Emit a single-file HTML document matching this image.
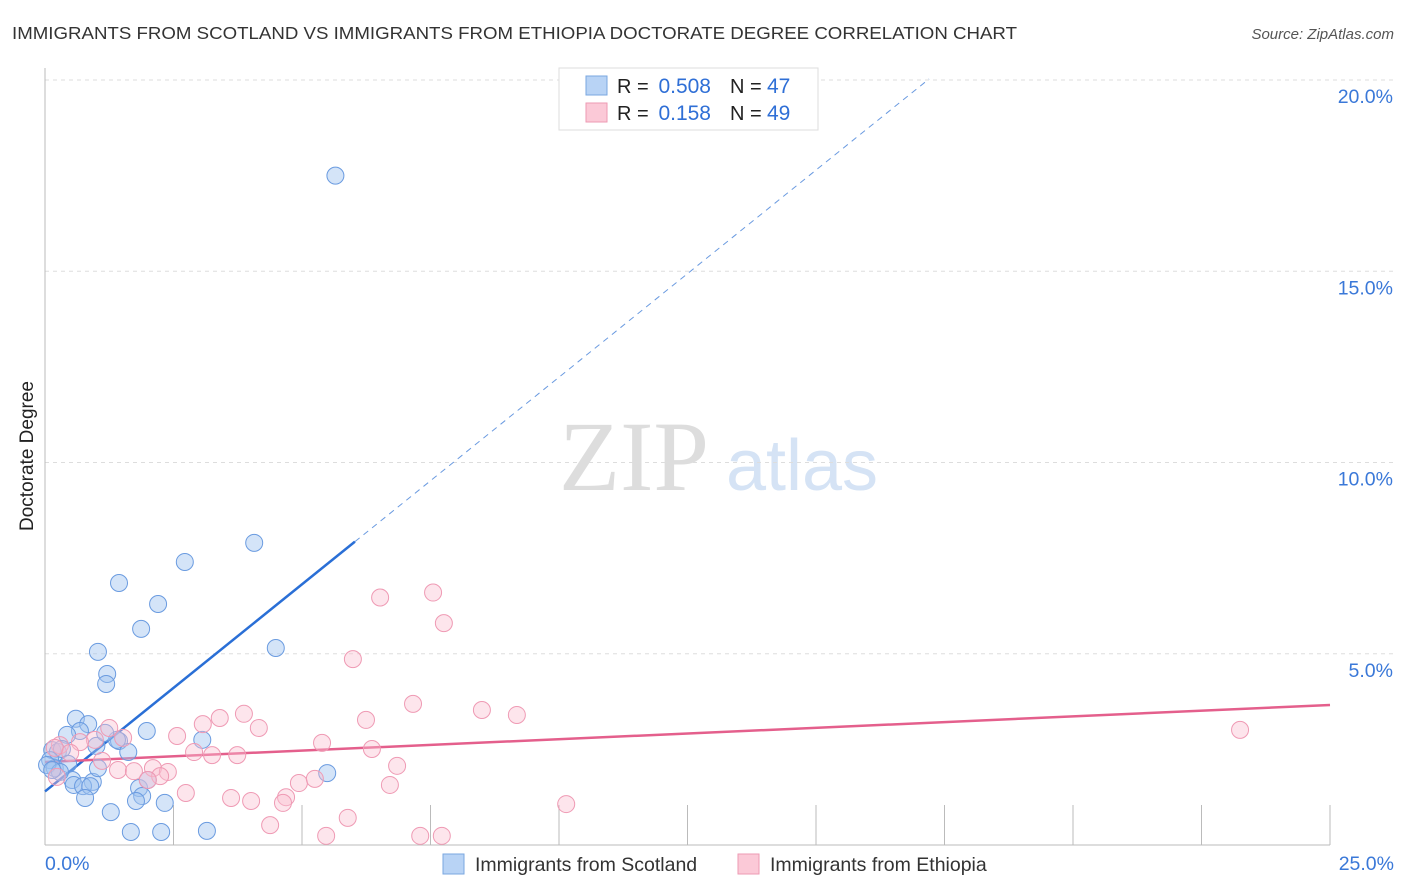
<!DOCTYPE html>
<html><head><meta charset="utf-8"><style>
body{margin:0;background:#fff;font-family:"Liberation Sans",sans-serif;}
svg{display:block}
</style></head><body>
<svg id="chart" width="1406" height="892" xmlns="http://www.w3.org/2000/svg">
<text x="12" y="39" font-size="17.5" fill="#333" textLength="1005" lengthAdjust="spacingAndGlyphs">IMMIGRANTS FROM SCOTLAND VS IMMIGRANTS FROM ETHIOPIA DOCTORATE DEGREE CORRELATION CHART</text>
<text x="1394" y="39" font-size="15" fill="#555" font-style="italic" text-anchor="end">Source: ZipAtlas.com</text>
<text x="33" y="456" font-size="19" fill="#222" text-anchor="middle" transform="rotate(-90 33 456)">Doctorate Degree</text>
<g><text x="634" y="490" font-size="100" fill="#ddd" font-family="Liberation Serif,serif" text-anchor="middle">ZIP</text><text x="802" y="490" font-size="72" fill="#d5e3f5" text-anchor="middle">atlas</text></g>
<g id="grid"></g><g id="axes"></g>
<g id="lines"></g><g id="pts"></g>
<g>
<rect x="559" y="68" width="259" height="62" fill="#fff" stroke="#ddd"/>
<rect x="586" y="76" width="21" height="19" fill="#b8d3f5" stroke="#7aa7e0"/>
<rect x="586" y="103" width="21" height="19" fill="#fbc9d7" stroke="#ee9ab3"/>
<text x="617" y="93" font-size="20" fill="#222">R =</text>
<text x="711" y="93" font-size="21" fill="#2f6fd6" text-anchor="end">0.508</text>
<text x="730" y="93" font-size="20" fill="#222">N =</text>
<text x="767" y="93" font-size="21" fill="#2f6fd6">47</text>
<text x="617" y="120" font-size="20" fill="#222">R =</text>
<text x="711" y="120" font-size="21" fill="#2f6fd6" text-anchor="end">0.158</text>
<text x="730" y="120" font-size="20" fill="#222">N =</text>
<text x="767" y="120" font-size="21" fill="#2f6fd6">49</text>
</g>
<g>
<rect x="443" y="854" width="21" height="20" fill="#b8d3f5" stroke="#7aa7e0"/>
<text x="475" y="871" font-size="19.5" fill="#333">Immigrants from Scotland</text>
<rect x="738" y="854" width="21" height="20" fill="#fbc9d7" stroke="#ee9ab3"/>
<text x="770" y="871" font-size="19.5" fill="#333">Immigrants from Ethiopia</text>
</g>
</svg>
<script>
const yTicks=[5,10,15,20];
const yTickLabels=["5.0%","10.0%","15.0%","20.0%"];
const xTicks=[0,2.5,5,7.5,10,12.5,15,17.5,20,22.5,25];
const scotX=[5.65,4.07,2.72,1.44,2.2,1.87,1.03,4.49,1.21,1.19,0.6,0.84,0.68,0.43,1.98,3.06,1.44,1.0,1.62,1.4,0.14,0.25,0.33,0.1,0.19,0.45,0.04,0.53,0.93,0.56,0.74,0.88,0.78,1.83,1.89,1.77,2.33,2.0,5.49,1.28,1.67,2.26,3.15,0.29,0.14,1.17,1.03];
const scotY=[17.5,7.9,7.4,6.85,6.3,5.65,5.05,5.15,4.47,4.21,3.3,3.16,2.98,2.88,2.98,2.75,2.72,2.59,2.43,2.75,2.48,2.43,2.51,2.22,2.01,2.12,2.09,1.7,1.65,1.57,1.54,1.54,1.23,1.49,1.28,1.15,1.10,1.7,1.88,0.86,0.34,0.34,0.37,1.91,1.96,2.93,2.01];
const ethX=[7.55,6.52,7.76,5.99,7.16,8.5,9.18,23.25,6.245,3.87,3.4,3.07,4.16,2.57,5.39,6.36,2.9,3.25,3.74,1.25,1.52,0.97,0.29,0.19,0.68,1.42,1.73,2.1,2.39,2.24,6.85,4.94,5.25,6.71,2.74,3.62,4.01,4.69,4.63,10.14,5.89,4.38,5.47,7.3,7.72,1.11,2.0,0.23,0.49];
const ethY=[6.6,6.47,5.8,4.86,3.69,3.53,3.4,3.01,3.27,3.43,3.32,3.16,3.06,2.85,2.67,2.51,2.43,2.35,2.35,3.06,2.8,2.75,2.61,2.54,2.69,1.96,1.93,2.01,1.91,1.8,2.07,1.62,1.73,1.57,1.36,1.23,1.15,1.25,1.10,1.07,0.71,0.52,0.24,0.24,0.24,2.2,1.7,1.78,2.41];
const scotFit=[1.4,1.083,6.03,17.2];
const ethFit=[2.17,0.0596];
const X=v=>45+v*51.4, Y=v=>845-v*38.25;
const NS="http://www.w3.org/2000/svg";
function mk(p,t,a){const e=document.createElementNS(NS,t);for(const k in a)e.setAttribute(k,a[k]);document.getElementById(p).appendChild(e);return e;}
yTicks.forEach((t,i)=>{
 const l=mk('grid','line',{x1:45,x2:1394,y1:Y(t),y2:Y(t),stroke:'#ddd','stroke-dasharray':'4,4'});
 
 
 const tx=mk('grid','text',{x:1393,y:Y(t)+23,'font-size':19.5,fill:'#3a78d8','text-anchor':'end'});tx.textContent=yTickLabels[i];
 
 
});
mk('axes','line',{x1:45,x2:45,y1:68,y2:845,stroke:'#bbb'});
mk('axes','line',{x1:45,x2:1330,y1:845,y2:845,stroke:'#bbb'});
xTicks.forEach(t=>{const l=mk('axes','line',{x1:X(t),x2:X(t),y1:805,y2:845,stroke:'#bbb'});
 
 });
let t0=mk('axes','text',{x:45,y:870,'font-size':19.5,fill:'#3a78d8'});t0.textContent='0.0%';


let t1=mk('axes','text',{x:1394,y:870,'font-size':19.5,fill:'#3a78d8','text-anchor':'end'});t1.textContent='25.0%';


scotX.forEach((x,i)=>{const c=mk('pts','circle',{cx:X(x),cy:Y(scotY[i]),r:8.5,fill:'rgba(160,195,240,0.45)',stroke:'#6a9be0','stroke-width':1});
 
 });
ethX.forEach((x,i)=>{const c=mk('pts','circle',{cx:X(x),cy:Y(ethY[i]),r:8.5,fill:'rgba(250,190,208,0.4)',stroke:'#ef9ab4','stroke-width':1});
 
 });
const f=(a,x)=>a[0]+a[1]*x;
let bl=mk('lines','line',{x1:X(0),y1:Y(f(scotFit,0)),x2:X(scotFit[2]),y2:Y(f(scotFit,scotFit[2])),stroke:'#2a6fd6','stroke-width':2.5});


let bd=mk('lines','line',{x1:X(scotFit[2]),y1:Y(f(scotFit,scotFit[2])),x2:X(scotFit[3]),y2:Y(f(scotFit,scotFit[3])),stroke:'#6a9ae0','stroke-width':1,'stroke-dasharray':'6,5'});


let pl=mk('lines','line',{x1:X(0),y1:Y(f(ethFit,0)),x2:X(25),y2:Y(f(ethFit,25)),stroke:'#e45f8c','stroke-width':2.5});


</script>
</body></html>
